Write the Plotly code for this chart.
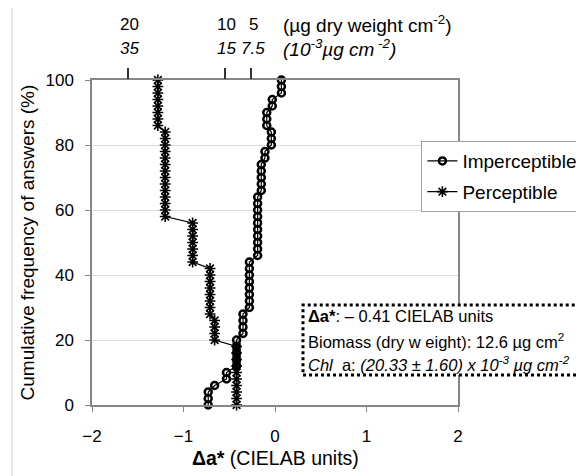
import plotly.graph_objects as go

# Cumulative frequency of answers (%)
freq = [0, 2, 4, 6, 8, 10, 12, 14, 16, 18, 20, 22, 24, 26, 28, 30, 32, 34, 36, 38,
        40, 42, 44, 46, 48, 50, 52, 54, 56, 58, 60, 62, 64, 66, 68, 70, 72, 74, 76, 78,
        80, 82, 84, 86, 88, 90, 92, 94, 96, 98, 100]

imperceptible_da = [-0.73, -0.73, -0.73, -0.66, -0.53, -0.53,
                    -0.42, -0.42, -0.42, -0.42, -0.42,
                    -0.35, -0.35, -0.35, -0.35,
                    -0.28, -0.28, -0.28, -0.28, -0.28, -0.28, -0.28, -0.28,
                    -0.19, -0.19, -0.19, -0.19, -0.19, -0.19, -0.19, -0.19, -0.19, -0.19,
                    -0.15, -0.15, -0.15, -0.15, -0.15,
                    -0.11, -0.11,
                    -0.04, -0.04, -0.04,
                    -0.09, -0.09, -0.09,
                    -0.03, -0.03,
                    0.07, 0.07, 0.07]

perceptible_da = [-0.42, -0.42, -0.42, -0.42, -0.42, -0.42, -0.42, -0.42, -0.42, -0.42,
                  -0.66, -0.66, -0.66, -0.66,
                  -0.71, -0.71, -0.71, -0.71, -0.71, -0.71, -0.71, -0.71,
                  -0.90, -0.90, -0.90, -0.90, -0.90, -0.90, -0.90,
                  -1.20, -1.20, -1.20, -1.20, -1.20, -1.20, -1.20, -1.20, -1.20, -1.20,
                  -1.20, -1.20, -1.20, -1.20,
                  -1.28, -1.28, -1.28, -1.28, -1.28, -1.28, -1.28, -1.28]

# Top axis: biomass / chlorophyll a equivalents
top_tick_pos = [-1.61, -0.55, -0.26]
biomass_labels = ["20", "10", "5"]
chl_labels = ["35", "15", "7.5"]

# Info box lines
info_lines = ["<b>Δa*</b>: – 0.41 CIELAB units",
              "Biomass (dry w eight): 12.6 µg cm<sup>2</sup>",
              "<i>Chl</i>  a: <i>(20.33 ± 1.60) x 10<sup>-3</sup> µg cm<sup>-2</sup></i>"]
info_y = [0.273, 0.196, 0.127]

FONT = "Liberation Sans, Arial, sans-serif"
AX = "#868686"

fig = go.Figure()
fig.add_trace(go.Scatter(
    x=imperceptible_da, y=freq, mode="lines+markers", name="Imperceptible",
    legendgroup="a",
    line=dict(color="black", width=1.2),
    marker=dict(symbol="circle-open", size=7, color="black", line=dict(width=2.5)),
    cliponaxis=False))
fig.add_trace(go.Scatter(
    x=perceptible_da, y=freq, mode="lines+markers", name="Perceptible",
    legendgroup="b",
    line=dict(color="black", width=1.2),
    marker=dict(symbol="asterisk-open", size=9, color="black", line=dict(width=1.6)),
    cliponaxis=False))
# invisible trace to activate the top axis
fig.add_trace(go.Scatter(x=top_tick_pos, y=[None] * 3, xaxis="x2", showlegend=False,
                         hoverinfo="skip"))

annotations = []
for p, b, c in zip(top_tick_pos, biomass_labels, chl_labels):
    annotations.append(dict(x=p, xref="x", y=1.172, yref="paper", text=b, showarrow=False,
                            xanchor="center", yanchor="middle", xshift=2,
                            font=dict(size=17, family=FONT, color="black")))
    annotations.append(dict(x=p, xref="x", y=1.098, yref="paper", text="<i>" + c + "</i>",
                            showarrow=False, xanchor="center", yanchor="middle", xshift=2,
                            font=dict(size=17, family=FONT, color="black")))
annotations.append(dict(x=0.07, xref="x", y=1.172, yref="paper",
                        text="(µg dry weight cm<sup>-2</sup>)", showarrow=False,
                        xanchor="left", yanchor="middle",
                        font=dict(size=19, family=FONT, color="black")))
annotations.append(dict(x=0.07, xref="x", y=1.098, yref="paper",
                        text="<i>(10<sup>-3</sup>µg cm<sup> -2</sup>)</i>", showarrow=False,
                        xanchor="left", yanchor="middle",
                        font=dict(size=19, family=FONT, color="black")))
annotations.append(dict(x=0.5, xref="paper", y=-0.163, yref="paper",
                        text="<b>Δa*</b> (CIELAB units)", showarrow=False,
                        xanchor="center", yanchor="middle",
                        font=dict(size=19.5, family=FONT, color="black")))
annotations.append(dict(x=-0.175, xref="paper", y=0.5, yref="paper",
                        text="Cumulative frequency of answers (%)", showarrow=False,
                        textangle=-90, xanchor="center", yanchor="middle",
                        font=dict(size=19, family=FONT, color="black")))
for t, yy in zip(info_lines, info_y):
    annotations.append(dict(x=0.585, xref="paper", y=yy, yref="paper", text=t,
                            showarrow=False, xanchor="left", yanchor="middle", align="left",
                            font=dict(size=16.5, family=FONT, color="black")))

shapes = [
    # outer chart border
    dict(type="rect", xref="paper", yref="paper", x0=-0.2186, x1=1.37, y0=-0.26, y1=1.2246,
         line=dict(color="#d0d0d0", width=1), layer="below"),
    # dotted info box
    dict(type="rect", xref="paper", yref="paper", x0=0.5765, x1=1.36, y0=0.092, y1=0.308,
         line=dict(color="black", width=3, dash="dot"), fillcolor="white", layer="above"),
]

fig.update_layout(
    width=584, height=476,
    margin=dict(l=84, r=134, t=72, b=79, autoexpand=False),
    paper_bgcolor="white", plot_bgcolor="white",
    font=dict(family=FONT, size=17, color="black"),
    xaxis=dict(range=[-2, 2], tickvals=[-2, -1, 0, 1, 2], ticks="outside", ticklen=5,
               tickcolor=AX, showline=True, linecolor=AX, linewidth=1.5, mirror=True,
               showgrid=False, zeroline=False, ticklabelstandoff=10,
               tickfont=dict(size=17, family=FONT)),
    xaxis2=dict(range=[-2, 2], overlaying="x", side="top", anchor="y",
                tickvals=top_tick_pos, ticks="outside", ticklen=11, tickwidth=2,
                tickcolor="#333333", showticklabels=False, showline=False,
                showgrid=False, zeroline=False),
    yaxis=dict(range=[0, 100], tickvals=[0, 20, 40, 60, 80, 100], ticks="outside",
               ticklen=5, tickcolor=AX, showline=True, linecolor=AX, linewidth=1.5,
               mirror=True, showgrid=True, gridcolor="#d9d9d9", gridwidth=1.2,
               zeroline=False, ticklabelstandoff=8, tickfont=dict(size=17, family=FONT)),
    legend=dict(x=0.90, y=0.812, xanchor="left", yanchor="top", bgcolor="white",
                bordercolor="#a0a0a0", borderwidth=1, tracegroupgap=3,
                traceorder="grouped",
                font=dict(size=19, family=FONT, color="black")),
    showlegend=True,
    annotations=annotations,
    shapes=shapes,
)

fig.write_html("out.html")
